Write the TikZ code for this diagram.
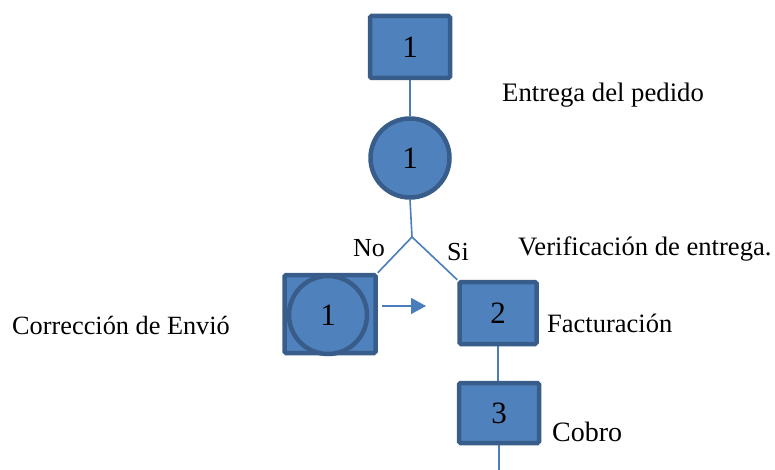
\documentclass[tikz,border=0pt]{standalone}
\usepackage{fontspec}
\setmainfont{Liberation Serif}
\usetikzlibrary{arrows.meta,backgrounds}
\definecolor{boxfill}{HTML}{4F81BD}
\definecolor{boxedge}{HTML}{385D8A}
\definecolor{linkc}{HTML}{4A7EBB}
\tikzset{
  stepbox/.style={draw=boxedge, fill=boxfill, line width=4.5pt, rounded corners=1.5pt,
    inner sep=0pt, font=\fontsize{31}{36}\selectfont},
  stepcirc/.style={circle, draw=boxedge, fill=boxfill, line width=4.5pt,
    inner sep=0pt, font=\fontsize{31}{36}\selectfont},
  link/.style={draw=linkc, line width=1.6pt},
  lbl/.style={anchor=base west, inner sep=0pt},
  fs/.style={font=\fontsize{#1}{#1}\selectfont}
}
\begin{document}
\begin{tikzpicture}[x=1pt,y=-1pt]
\useasboundingbox (0,0) rectangle (775,470);
% process steps
\node[stepbox, minimum width=80pt, minimum height=62pt] (b1) at (410,47) {1};
\node[stepcirc, minimum size=79pt] (c1) at (410,158) {1};
\node[stepbox, minimum width=91pt, minimum height=78pt] (bl) at (330,314) {};
\node[stepcirc, minimum size=78pt] (cl) at (328,315) {1};
\node[stepbox, minimum width=77pt, minimum height=62pt] (b2) at (498,313) {2};
\node[stepbox, minimum width=80pt, minimum height=60pt] (b3) at (499,413) {3};
% free ends of connectors
\coordinate (fork) at (412,237);
\coordinate (arrtip) at (426,306);
\coordinate (tail) at (499,470);
% connectors
\begin{scope}[on background layer]
\draw[link] (b1.south) -- (c1.north);
\draw[link] (c1.south) -- (fork);
\draw[link] (fork) -- (bl.north east);
\draw[link] (fork) -- (b2.north west);
\draw[link] (b2.south -| 498,0) -- (b3.north -| 498,0);
\draw[link] (b3.south) -- (tail);
\end{scope}
\draw[link, -{Triangle[length=15pt,width=16pt]}] (bl.east |- arrtip) ++(4,0) coordinate (arrbase) -- (arrtip);
% labels
\node[lbl, fs=26.7] (t1) at (502,102) {Entrega del pedido};
\node[lbl, fs=26.6] (t2) at (518,255) {Verificación de entrega.};
\node[lbl, fs=26.5] (t3) at (547,332) {Facturación};
\node[lbl, fs=28] (t4) at (552,441) {Cobro};
\node[lbl, fs=26.3] (t5) at (12,334) {Corrección de Envió};
\node[lbl, fs=26] (tno) at (353,256) {No};
\node[lbl, fs=26] (tsi) at (447,260) {Si};
\end{tikzpicture}
\end{document}
